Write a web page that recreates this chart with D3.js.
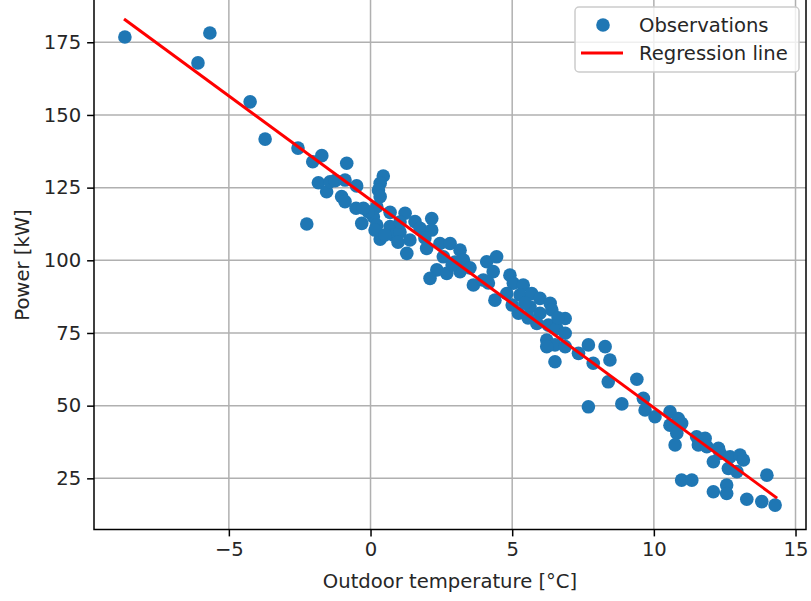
<!DOCTYPE html>
<html><head><meta charset="utf-8">
<script src="https://cdn.jsdelivr.net/npm/d3@7"></script>
<style>body{margin:0;background:#fff;} svg{display:block;} text{font-family:"DejaVu Sans",sans-serif;}</style>
</head><body>
<svg id="c" width="811" height="601"></svg>
<script>
const tempC = [-8.67,-6.09,-5.67,-4.25,-3.72,-2.56,-2.04,-1.72,-0.84,-1.84,-1.55,-1.43,-1.25,-0.90,-0.49,-1.02,-0.90,-0.51,-2.25,-0.31,
0.45,0.34,0.28,0.34,0.22,0.10,0.22,0.34,-0.08,0.69,0.80,1.22,-0.25,0.16,1.57,2.16,1.75,2.16,1.28,1.98,
2.45,2.81,2.57,3.16,3.28,2.34,2.69,2.10,3.16,3.63,3.98,4.10,4.45,4.33,4.92,5.04,5.39,4.39,4.81,5.28,
5.69,5.98,6.34,5.22,5.63,5.98,6.40,6.87,5.87,6.28,6.57,6.22,6.51,6.87,6.22,6.87,6.51,7.34,7.69,8.28,
7.86,8.45,8.39,9.40,7.69,8.87,9.63,9.69,10.57,10.04,10.86,10.98,10.57,10.81,10.75,11.51,11.81,11.57,11.87,12.28,
12.34,12.10,12.69,13.04,13.16,12.63,12.93,13.99,10.98,11.34,12.10,12.57,12.57,13.28,13.81,14.28,1.04,1.39,2.98,3.51,
4.16,5.45,6.62,0.69,1.04,0.51,0.97,1.92,2.88,5.00,5.56];
const powerKW = [176.8,167.9,178.2,154.5,141.7,138.6,133.9,136.0,133.4,126.7,123.6,127.0,127.4,127.6,125.6,121.9,120.2,117.9,112.5,112.7,
129.0,126.5,124.2,121.9,118.4,115.0,112.1,107.3,116.7,111.6,108.7,116.2,117.9,110.4,113.3,114.4,111.0,110.4,102.4,104.1,
105.8,105.8,101.2,103.5,100.1,96.7,95.5,93.8,96.1,91.5,93.2,99.5,101.2,96.1,94.9,92.1,91.5,86.3,88.6,88.1,
88.6,86.9,85.2,81.8,84.0,81.8,82.9,80.0,78.3,77.7,76.6,72.6,70.9,74.9,70.3,70.3,65.1,68.0,70.9,70.3,
64.6,65.7,58.2,59.1,49.6,50.6,52.5,48.5,47.9,46.2,45.6,43.9,43.3,40.5,36.5,39.3,38.8,36.5,35.9,35.3,
33.6,30.7,32.4,33.0,31.3,28.4,27.3,26.1,24.4,24.4,20.4,22.7,19.8,17.8,17.0,15.8,109.7,107.0,99.4,97.4,
92.2,85.3,80.2,116.5,113.2,108.7,106.2,107.7,98.4,84.6,80.2];
const regIntercept = 120.8;
const regSlope = -7.15;
const regRange = [-8.7, 14.35];
const xTicks = [-5, 0, 5, 10, 15];
const yTicks = [25, 50, 75, 100, 125, 150, 175];
const legendLabels = ["Observations", "Regression line"];

const FS = 19.6;
const svg = d3.select("#c");
const L = 94, R = 806, T = -5.4, B = 529.5;
const x = d3.scaleLinear().domain([-9.76, 15.37]).range([L, R]);
const y = d3.scaleLinear().domain([7.4, 191.4]).range([B, T]);

const g = svg.append("g");
// grid
g.selectAll(".gx").data(xTicks).join("line")
  .attr("x1", d => x(d)).attr("x2", d => x(d)).attr("y1", T).attr("y2", B)
  .attr("stroke", "#b0b0b0").attr("stroke-width", 1.5);
g.selectAll(".gy").data(yTicks).join("line")
  .attr("x1", L).attr("x2", R).attr("y1", d => y(d)).attr("y2", d => y(d))
  .attr("stroke", "#b0b0b0").attr("stroke-width", 1.5);

// points
const pts = tempC.map((t, i) => ({t, p: powerKW[i]}));
g.selectAll("circle.pt").data(pts).join("circle")
  .attr("cx", d => x(d.t)).attr("cy", d => y(d.p)).attr("r", 6.8)
  .attr("fill", "#1f77b4");

// regression line
const line = d3.line().x(d => x(d)).y(d => y(regIntercept + regSlope * d));
g.append("path").datum(regRange).attr("d", line)
  .attr("fill", "none").attr("stroke", "red").attr("stroke-width", 3);

// axes
const xAxis = d3.axisBottom(x).tickValues(xTicks).tickSize(6.9).tickPadding(6)
  .tickFormat(d => d < 0 ? "\u2212" + Math.abs(d) : d);
const yAxis = d3.axisLeft(y).tickValues(yTicks).tickSize(6.9).tickPadding(6);
const ax = svg.append("g").attr("transform", `translate(0,${B})`).call(xAxis);
const ay = svg.append("g").attr("transform", `translate(${L},0)`).call(yAxis);
[ax, ay].forEach(a => {
  a.select(".domain").remove();
  a.selectAll("text").attr("font-size", FS).attr("fill", "#262626").attr("font-family", "DejaVu Sans");
  a.selectAll("line").attr("stroke", "#000").attr("stroke-width", 1.5);
});
// spines
svg.append("rect").attr("x", L).attr("y", T).attr("width", R - L).attr("height", B - T)
  .attr("fill", "none").attr("stroke", "#000").attr("stroke-width", 1.5);

// axis labels
svg.append("text").attr("x", (L + R) / 2).attr("y", 588).attr("text-anchor", "middle")
  .attr("font-size", FS).attr("fill", "#262626").text("Outdoor temperature [°C]");
svg.append("text").attr("transform", `translate(29,265) rotate(-90)`)
  .attr("text-anchor", "middle").attr("font-size", FS).attr("fill", "#262626").text("Power [kW]");

// legend
const lg = svg.append("g");
lg.append("rect").attr("x", 575).attr("y", 7).attr("width", 224).attr("height", 65).attr("rx", 4)
  .attr("fill", "#fff").attr("fill-opacity", 0.8).attr("stroke", "#cccccc").attr("stroke-width", 1.5);
lg.append("circle").attr("cx", 603).attr("cy", 25).attr("r", 6.8).attr("fill", "#1f77b4");
lg.append("line").attr("x1", 581).attr("x2", 623).attr("y1", 53).attr("y2", 53)
  .attr("stroke", "red").attr("stroke-width", 3);
lg.selectAll("text.lt").data(legendLabels).join("text")
  .attr("x", 639).attr("y", (d, i) => 32 + i * 28).attr("font-size", FS).attr("fill", "#262626").text(d => d);
</script>
</body></html>
